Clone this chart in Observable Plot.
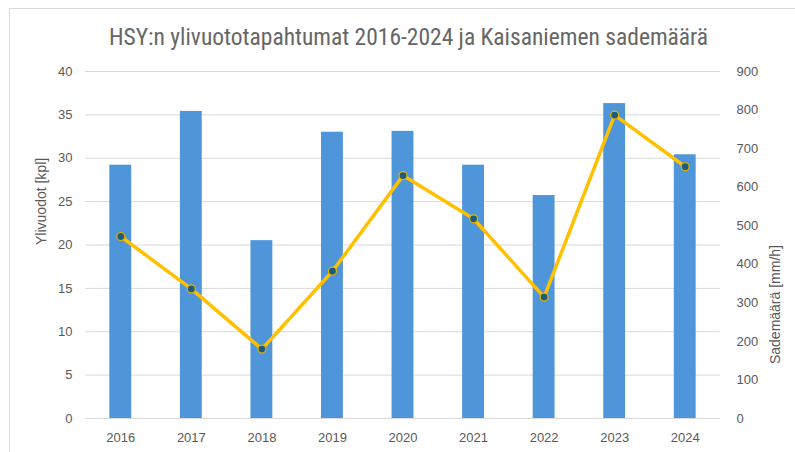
<!DOCTYPE html>
<html><head><meta charset="utf-8">
<script src="https://cdn.jsdelivr.net/npm/d3@7"></script>
<script src="https://cdn.jsdelivr.net/npm/@observablehq/plot@0.6"></script>
<style>
html,body{margin:0;padding:0;background:#fff;}
#wrap{position:relative;width:795px;height:452px;overflow:hidden;}
#frame{position:absolute;left:9px;top:8px;width:800px;height:460px;border:1px solid #d9d9d9;box-sizing:border-box;}
#title{position:absolute;left:11px;top:23px;width:795px;text-align:center;font-family:"Liberation Sans Narrow","Roboto Condensed","DejaVu Sans Condensed",sans-serif;font-size:23.5px;color:#666666;}
#chart{position:absolute;left:0;top:0;}
</style></head>
<body><div id="wrap"><div id="frame"></div><div id="title">HSY:n ylivuototapahtumat 2016-2024 ja Kaisaniemen sademäärä</div><div id="chart"></div></div>
<script>
const years = ["2016","2017","2018","2019","2020","2021","2022","2023","2024"];
const overflows = [29.2, 35.4, 20.5, 33.0, 33.1, 29.2, 25.7, 36.3, 30.4];
const rainfall = [472, 336, 180, 382, 630, 518, 315, 787, 653];
const leftTicks = [0,5,10,15,20,25,30,35,40];
const rightTicks = [0,100,200,300,400,500,600,700,800,900];
const leftMax = 40, rightMax = 900;
const k = leftMax / rightMax;

const data = years.map((y,i)=>({year:y, n:overflows[i], rain:rainfall[i], rs:rainfall[i]*k}));

const font = "Liberation Sans, Arial, sans-serif";
const plot = Plot.plot({
  width: 795, height: 452,
  marginLeft: 85, marginRight: 75, marginTop: 71, marginBottom: 34,
  style: {fontFamily: font, fontSize: "13px", color: "#595959", background: "transparent"},
  x: {domain: years, paddingInner: 0.69, paddingOuter: 0.345, round: false, label: null},
  y: {domain: [0, leftMax], label: null},
  marks: [
    Plot.gridY(leftTicks, {stroke: "#d9d9d9", strokeOpacity: 1, strokeWidth: 1}),
    Plot.ruleY([0], {stroke: "#d9d9d9", strokeWidth: 1}),
    Plot.barY(data, {x: "year", y: "n", fill: "#4E95D9"}),
    Plot.line(data, {x: "year", y: "rs", stroke: "#FFC000", strokeWidth: 3.5, curve: "linear"}),
    Plot.dot(data, {x: "year", y: "rs", r: 4, fill: "#1F5C7A", stroke: "#E8B400", strokeWidth: 1.2}),
    Plot.axisX({tickSize: 0, tickPadding: 14, fill: "#595959", fontSize: 13}),
    Plot.axisY({anchor: "left", ticks: leftTicks, tickSize: 0, tickPadding: 13, fill: "#595959", fontSize: 13, label: null}),
    Plot.axisY({anchor: "right", ticks: rightTicks.map(v=>v*k), tickFormat: d => String(Math.round(d/k)), tickSize: 0, tickPadding: 16, fill: "#595959", fontSize: 13, label: null}),
    Plot.text(["Ylivuodot [kpl]"], {frameAnchor: "left", dx: -44, rotate: -90, fill: "#595959", fontSize: 14}),
    Plot.text(["Sademäärä [mm/h]"], {frameAnchor: "right", dx: 55, rotate: -90, fill: "#595959", fontSize: 14})
  ]
});
document.getElementById("chart").appendChild(plot);
</script></body></html>
